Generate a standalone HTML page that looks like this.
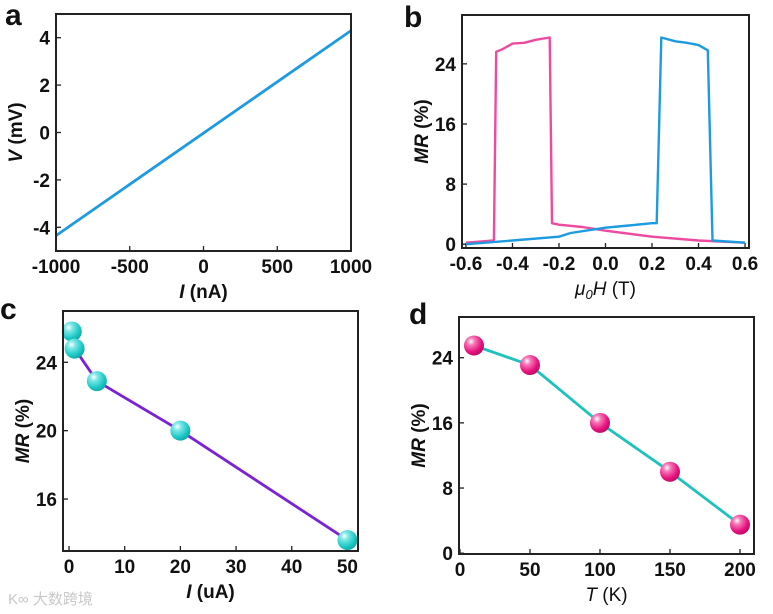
<!DOCTYPE html>
<html><head><meta charset="utf-8"><style>
html,body{margin:0;padding:0;background:#fff;}
svg{display:block;font-family:"Liberation Sans",Arial,sans-serif;}
</style></head><body>
<svg id="fig" width="773" height="614" viewBox="0 0 773 614" xmlns="http://www.w3.org/2000/svg">
<defs>
<radialGradient id="gc" cx="0.35" cy="0.3" r="0.75"><stop offset="0" stop-color="#ffffff"/><stop offset="0.25" stop-color="#7fe8e6"/><stop offset="0.7" stop-color="#1cc9c6"/><stop offset="1" stop-color="#10a6a3"/></radialGradient>
<radialGradient id="gm" cx="0.35" cy="0.3" r="0.75"><stop offset="0" stop-color="#ffffff"/><stop offset="0.25" stop-color="#f57ab8"/><stop offset="0.7" stop-color="#e8137f"/><stop offset="1" stop-color="#b80a62"/></radialGradient>
</defs>
</svg>
<script>
// Panel a data
const aX = [-1000, 1000];
const aY = [-4.35, 4.3];
const aXTicks = [-1000, -500, 0, 500, 1000];
const aYTicks = [-4, -2, 0, 2, 4];
// Panel b data
const bPinkX = [0.6, 0.4, 0.2, 0.0, -0.1, -0.2, -0.23, -0.24, -0.3, -0.35, -0.4, -0.44, -0.47, -0.48, -0.6];
const bPinkY = [0.2, 0.5, 1.0, 1.8, 2.3, 2.6, 2.8, 27.5, 27.2, 26.8, 26.7, 26.0, 25.6, 0.5, 0.2];
const bBlueX = [-0.6, -0.4, -0.2, -0.15, 0.0, 0.1, 0.2, 0.22, 0.24, 0.3, 0.35, 0.4, 0.44, 0.46, 0.6];
const bBlueY = [0.0, 0.5, 1.0, 1.5, 2.2, 2.5, 2.8, 2.8, 27.5, 27.0, 26.8, 26.5, 25.8, 0.5, 0.2];
const bXTicks = [-0.6, -0.4, -0.2, 0.0, 0.2, 0.4, 0.6];
const bXLabels = ["-0.6", "-0.4", "-0.2", "0.0", "0.2", "0.4", "0.6"];
const bYTicks = [0, 8, 16, 24];
// Panel c data
const cX = [0.5, 1, 5, 20, 50];
const cY = [25.8, 24.8, 22.9, 20.0, 13.6];
const cXTicks = [0, 10, 20, 30, 40, 50];
const cYTicks = [16, 20, 24];
// Panel d data
const dX = [10, 50, 100, 150, 200];
const dY = [25.5, 23.1, 16.0, 10.0, 3.5];
const dXTicks = [0, 50, 100, 150, 200];
const dYTicks = [0, 8, 16, 24];

const NS = "http://www.w3.org/2000/svg";
const svg = document.getElementById('fig');
function el(tag, attrs, parent, text) {
  const e = document.createElementNS(NS, tag);
  for (const k in attrs) e.setAttribute(k, attrs[k]);
  if (text !== undefined) e.textContent = text;
  (parent || svg).appendChild(e);
  return e;
}
function scale(d0, d1, r0, r1) { return v => r0 + (v - d0) / (d1 - d0) * (r1 - r0); }

function panel(p) {
  const g = el('g', {});
  
  
  const sx = scale(p.xd[0], p.xd[1], p.L, p.R);
  const sy = scale(p.yd[0], p.yd[1], p.B, p.T);
  const lt = el('text', {x: p.letterX, y: p.letterY, 'font-size': 30, 'font-weight': 'bold', fill: '#111'}, g, p.letter);
  
  
  p.xt.forEach((t, i) => {
    const x = sx(t);
    el('line', {x1: x, x2: x, y1: p.B, y2: p.B - 5, stroke: '#222', 'stroke-width': 1.3}, g);
    const tx = el('text', {x: x, y: p.B + 22, 'font-size': 19, 'font-weight': 'bold', 'text-anchor': 'middle', fill: '#111'}, g, p.xl ? p.xl[i] : String(t));
    
    
  });
  p.yt.forEach(t => {
    const y = sy(t);
    el('line', {x1: p.L, x2: p.L + 5, y1: y, y2: y, stroke: '#222', 'stroke-width': 1.3}, g);
    const ty = el('text', {x: p.L - 6, y: y + 7, 'font-size': 19, 'font-weight': 'bold', 'text-anchor': 'end', fill: '#111'}, g, String(t));
    
    
  });
  const xt = el('text', {x: (p.L + p.R) / 2, y: p.B + 47, 'font-size': 19, 'font-weight': 'bold', 'text-anchor': 'middle', fill: '#111'}, g);
  xt.innerHTML = p.xtitle;
  
  
  const cy = (p.T + p.B) / 2;
  const yt = el('text', {x: p.L - 34, y: cy, 'font-size': 19, 'font-weight': 'bold', 'text-anchor': 'middle', fill: '#111', transform: 'rotate(-90 ' + (p.L - 34) + ' ' + cy + ')'}, g);
  yt.innerHTML = p.ytitle;
  
  
  p.draw(g, sx, sy);
  const fr = el('rect', {x: p.L, y: p.T, width: p.R - p.L, height: p.B - p.T, fill: 'none', stroke: '#222', 'stroke-width': 2}, g);
  
  
}
function poly(g, xs, ys, sx, sy, color, w, name) {
  const pts = xs.map((x, i) => sx(x).toFixed(1) + ',' + sy(ys[i]).toFixed(1)).join(' ');
  const pl = el('polyline', {points: pts, fill: 'none', stroke: color, 'stroke-width': w, 'stroke-linejoin': 'round'}, g);
  
  
}
function dots(g, xs, ys, sx, sy, fill, name) {
  xs.forEach((x, i) => {
    const c = el('circle', {cx: sx(x), cy: sy(ys[i]), r: 10, fill: fill}, g);
    
    
  });
}

panel({name: 'panel-a-iv-curve', letter: 'a', letterX: 5, letterY: 25, L: 56, R: 351, T: 14, B: 251,
  xd: [-1000, 1000], yd: [-5, 5], xt: aXTicks, yt: aYTicks,
  xtitle: '<tspan font-style="italic">I</tspan> (nA)', ytitle: '<tspan font-style="italic">V</tspan> (mV)',
  draw: (g, sx, sy) => poly(g, aX, aY, sx, sy, '#1e9be0', 2.8, 'iv-line')});

panel({name: 'panel-b-mr-loop', letter: 'b', letterX: 404, letterY: 27, L: 462, R: 749, T: 15, B: 248,
  xd: [-0.617, 0.617], yd: [-0.5, 30.5], xt: bXTicks, xl: bXLabels, yt: bYTicks,
  xtitle: '<tspan font-style="italic" font-weight="normal">μ</tspan><tspan font-style="italic" font-weight="normal" font-size="13" dy="4">0</tspan><tspan font-style="italic" font-weight="normal" dy="-4">H</tspan><tspan font-weight="normal"> (T)</tspan>',
  ytitle: '<tspan font-style="italic">MR</tspan> (%)',
  draw: (g, sx, sy) => { poly(g, bPinkX, bPinkY, sx, sy, '#ee4aa0', 2.4, 'sweep-down-line'); poly(g, bBlueX, bBlueY, sx, sy, '#1e9be0', 2.4, 'sweep-up-line'); }});

panel({name: 'panel-c-mr-vs-current', letter: 'c', letterX: 0, letterY: 319, L: 63, R: 358, T: 311, B: 551,
  xd: [-1.08, 51.9], yd: [12.96, 27], xt: cXTicks, yt: cYTicks,
  xtitle: '<tspan font-style="italic">I</tspan> (uA)', ytitle: '<tspan font-style="italic">MR</tspan> (%)',
  draw: (g, sx, sy) => { poly(g, cX, cY, sx, sy, '#7a22d6', 2.8, 'mr-current-line'); dots(g, cX, cY, sx, sy, 'url(#gc)', 'mr-current-point'); }});

panel({name: 'panel-d-mr-vs-temperature', letter: 'd', letterX: 409, letterY: 324, L: 459, R: 754, T: 317, B: 554,
  xd: [-0.7, 210], yd: [-0.1, 29], xt: dXTicks, yt: dYTicks,
  xtitle: '<tspan font-style="italic" font-weight="normal">T</tspan><tspan font-weight="normal"> (K)</tspan>', ytitle: '<tspan font-style="italic">MR</tspan> (%)',
  draw: (g, sx, sy) => { poly(g, dX, dY, sx, sy, '#1ec2bd', 2.8, 'mr-temp-line'); dots(g, dX, dY, sx, sy, 'url(#gm)', 'mr-temp-point'); }});

const wm = el('text', {x: 8, y: 604, 'font-size': 15, fill: '#c8c8c8', 'font-family': '"Liberation Sans","Noto Sans CJK SC",sans-serif'}, svg, 'K∞ 大数跨境');


</script>
</body></html>
